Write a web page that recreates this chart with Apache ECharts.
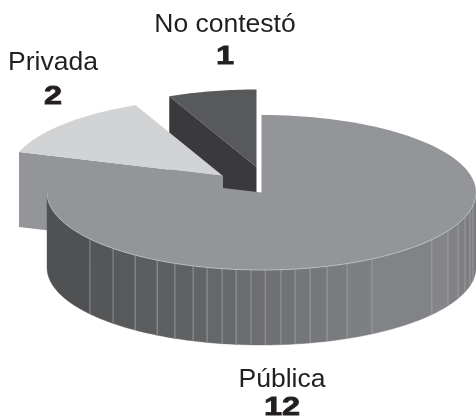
<!DOCTYPE html>
<html>
<head>
<meta charset="utf-8">
<style>html,body{margin:0;padding:0;background:#fff}#c{width:476px;height:419px}</style>
<script src="https://cdn.jsdelivr.net/npm/echarts@6/dist/echarts.min.js"></script>
</head>
<body>
<div id="c"></div>
<script>
// Data, in the clockwise order starting at 12 o'clock
const categories = ['Pública', 'Privada', 'No contestó'];
const values = [12, 2, 1];

// Style of each slice
const topColors = ['#939598', '#d1d3d4', '#58595b'];
const radialWallColors = ['#939598', '#939598', '#3a3a3c'];
const explode = [[0, 0], [-38.5, -16.5], [-5, -25.5]];
const labelAnchors = [[282, 380, 282, 408], [53, 63, 53, 97], [225, 25, 225, 57]];
// Facet seams of the rim, degrees either side of the front of the pie
const rimSeams = [90, 80.5, 76.4, 71.6, 66.4, 60.4, 52.6, 31, 23.5, 17.8, 13.1, 9, 5.2, 1, -2.8, -6.8, -10.6, -14.7, -18.6, -23.8, -29.1, -36.1, -43.8, -53.1, -90];
const rimShade = [[-90, [77, 77, 79]], [-50, [84, 85, 87]], [-20, [97, 98, 100]], [0, [110, 111, 114]], [30, [128, 129, 132]], [55, [133, 134, 137]], [90, [118, 119, 122]]];

const CX = 261.5, CY = 192.5, RX = 214.5, RY = 77.5, DEPTH = 75;
const total = values.reduce((a, b) => a + b, 0);

function pt(cx, cy, deg, dy) {
  const t = deg * Math.PI / 180;
  return [cx + RX * Math.sin(t), cy - RY * Math.cos(t) + (dy || 0)];
}
function arc(cx, cy, a0, a1, dy) {
  const n = Math.max(2, Math.ceil(Math.abs(a1 - a0) / 1)), out = [];
  for (let i = 0; i <= n; i++) out.push(pt(cx, cy, a0 + (a1 - a0) * i / n, dy));
  return out;
}
function shade(o) {
  for (let i = 1; i < rimShade.length; i++) {
    if (o <= rimShade[i][0]) {
      const [a, ca] = rimShade[i - 1], [b, cb] = rimShade[i];
      const f = (o - a) / (b - a);
      return 'rgb(' + ca.map((c, k) => Math.round(c + (cb[k] - c) * f)).join(',') + ')';
    }
  }
  return 'rgb(' + rimShade[rimShade.length - 1][1].join(',') + ')';
}

function renderSlice(params) {
  const i = params.dataIndex;
  const before = values.slice(0, i).reduce((a, b) => a + b, 0);
  const a0 = before / total * 360, a1 = (before + values[i]) / total * 360;
  const cx = CX + explode[i][0], cy = CY + explode[i][1];
  const children = [];
  let z = (categories.length - i) * 10;

  // radial face at the start of the slice, seen only on the left side
  if (a0 > 180) {
    const outer = pt(cx, cy, a0);
    children.push({ type: 'polygon', z2: z, shape: { points: [[cx, cy], outer, [outer[0], outer[1] + DEPTH], [cx, cy + DEPTH]] },
      style: { fill: radialWallColors[i] } });
  }
  // outer rim, only where it faces the viewer
  const from = Math.max(a0, 90), to = Math.min(a1, 270);
  if (to > from) {
    for (let k = 0; k < rimSeams.length - 1; k++) {
      const t0 = 180 - rimSeams[k], t1 = 180 - rimSeams[k + 1];
      const s = Math.max(t0, from), e = Math.min(t1, to);
      if (e <= s) continue;
      const points = arc(cx, cy, s, e, 0).concat(arc(cx, cy, e, s, DEPTH));
      const c = shade((rimSeams[k] + rimSeams[k + 1]) / 2);
      children.push({ type: 'polygon', z2: z + 1, shape: { points }, style: { fill: c, stroke: c, lineWidth: 0.4 } });
    }
    for (let k = 1; k < rimSeams.length - 1; k++) {
      const t = 180 - rimSeams[k];
      if (t <= from || t >= to) continue;
      const p = pt(cx, cy, t);
      children.push({ type: 'line', z2: z + 2, shape: { x1: p[0], y1: p[1], x2: p[0], y2: p[1] + DEPTH },
        style: { stroke: '#a9aaad', lineWidth: 0.7 } });
    }
  }
  // top face
  const top = [[cx, cy]].concat(arc(cx, cy, a0, a1));
  children.push({ type: 'polygon', z2: z + 3, shape: { points: top }, style: { fill: topColors[i] } });
  if (to > from) {
    children.push({ type: 'polyline', z2: z + 4, shape: { points: arc(cx, cy, from, to) },
      style: { fill: 'none', stroke: '#c9cacc', lineWidth: 0.7 } });
  }
  // labels
  const L = labelAnchors[i];
  children.push({ type: 'text', z2: 100, x: L[0], y: L[1], style: {
    text: categories[i], fill: '#231f20', font: '26.5px "Liberation Sans"', align: 'center', verticalAlign: 'middle' } });
  children.push({ type: 'text', z2: 100, x: L[2], y: L[3], scaleX: 1.25, style: {
    text: String(values[i]), fill: '#231f20', stroke: '#231f20', lineWidth: 0.8,
    font: 'bold 26px "Liberation Sans"', align: 'center', verticalAlign: 'middle' } });
  return { type: 'group', children };
}

const chart = echarts.init(document.getElementById('c'), null, { renderer: 'canvas' });
chart.setOption({
  animation: false,
  backgroundColor: '#ffffff',
  series: [{
    type: 'custom',
    coordinateSystem: 'none',
    silent: true,
    clip: false,
    data: categories.map((c, i) => ({ name: c, value: values[i] })),
    renderItem: renderSlice
  }]
});
</script>
</body>
</html>
